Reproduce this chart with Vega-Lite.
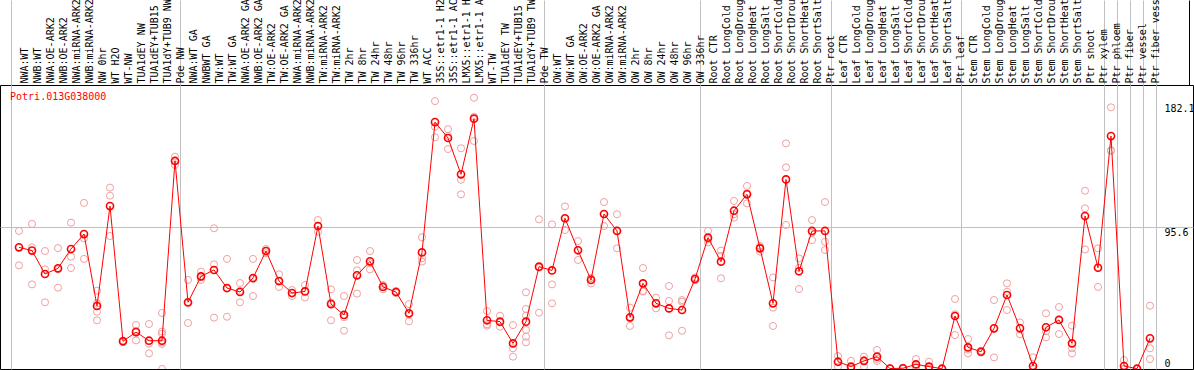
{
  "$schema": "https://vega.github.io/schema/vega-lite/v6.json",
  "width": 1193,
  "height": 284,
  "autosize": {"type": "none"},
  "padding": {"top": 85, "bottom": 1, "left": 0, "right": 1},
  "background": "white",
  "config": {"view": {"stroke": "black", "strokeWidth": 1}, "font": "DejaVu Sans Mono"},
  "datasets": {
    "means": [
      {"i":0,"v":81.7},{"i":1,"v":79.5},{"i":2,"v":63.8},{"i":3,"v":67.6},{"i":4,"v":80.6},{"i":5,"v":90.6},{"i":6,"v":42.3},{"i":7,"v":109.4},{"i":8,"v":18.6},{"i":9,"v":24.8},
      {"i":10,"v":19.0},{"i":11,"v":19.0},{"i":12,"v":139.7},{"i":13,"v":44.8},{"i":14,"v":62.2},{"i":15,"v":66.5},{"i":16,"v":54.4},{"i":17,"v":51.7},{"i":18,"v":61.1},{"i":19,"v":79.2},
      {"i":20,"v":59.1},{"i":21,"v":51.0},{"i":22,"v":52.1},{"i":23,"v":96.0},{"i":24,"v":43.6},{"i":25,"v":36.3},{"i":26,"v":62.9},{"i":27,"v":72.3},{"i":28,"v":55.1},{"i":29,"v":51.7},
      {"i":30,"v":37.4},{"i":31,"v":78.3},{"i":32,"v":165.8},{"i":33,"v":155.1},{"i":34,"v":130.7},{"i":35,"v":168.1},{"i":36,"v":32.7},{"i":37,"v":31.8},{"i":38,"v":17.2},{"i":39,"v":31.8},
      {"i":40,"v":68.7},{"i":41,"v":66.2},{"i":42,"v":101.2},{"i":43,"v":79.7},{"i":44,"v":59.8},{"i":45,"v":104.1},{"i":46,"v":92.7},{"i":47,"v":34.7},{"i":48,"v":57.5},{"i":49,"v":44.1},
      {"i":50,"v":40.7},{"i":51,"v":39.6},{"i":52,"v":60.4},{"i":53,"v":88.2},{"i":54,"v":72.1},{"i":55,"v":106.3},{"i":56,"v":117.3},{"i":57,"v":81.0},{"i":58,"v":44.1},{"i":59,"v":127.3},
      {"i":60,"v":65.6},{"i":61,"v":92.7},{"i":62,"v":92.7},{"i":63,"v":4.9},{"i":64,"v":1.6},{"i":65,"v":5.4},{"i":66,"v":8.3},{"i":67,"v":0.3},{"i":68,"v":0.5},{"i":69,"v":3.1},
      {"i":70,"v":1.6},{"i":71,"v":0.2},{"i":72,"v":35.6},{"i":73,"v":14.5},{"i":74,"v":11.6},{"i":75,"v":27.3},{"i":76,"v":49.7},{"i":77,"v":27.3},{"i":78,"v":2.0},{"i":79,"v":28.0},
      {"i":80,"v":32.9},{"i":81,"v":17.2},{"i":82,"v":102.7},{"i":83,"v":68.0},{"i":84,"v":156.4},{"i":85,"v":2.0},{"i":86,"v":0.2},{"i":87,"v":20.6}
    ],
    "reps": [
      {"i":0,"v":92.7},{"i":0,"v":81.7},{"i":0,"v":69.6},
      {"i":1,"v":97.4},{"i":1,"v":81.7},{"i":1,"v":56.8},
      {"i":2,"v":79.2},{"i":2,"v":66.9},{"i":2,"v":44.8},
      {"i":3,"v":81.2},{"i":3,"v":67.0},{"i":3,"v":54.6},
      {"i":4,"v":98.3},{"i":4,"v":75.4},{"i":4,"v":67.8},
      {"i":5,"v":111.5},{"i":5,"v":87.7},{"i":5,"v":73.9},
      {"i":6,"v":52.6},{"i":6,"v":44.1},{"i":6,"v":38.5},{"i":6,"v":32.7},
      {"i":7,"v":121.8},{"i":7,"v":116.4},{"i":7,"v":89.3},
      {"i":8,"v":18.0},{"i":8,"v":18.6},{"i":8,"v":19.2},
      {"i":9,"v":29.5},{"i":9,"v":25.7},{"i":9,"v":19.2},
      {"i":10,"v":30.2},{"i":10,"v":17.0},{"i":10,"v":10.5},
      {"i":11,"v":37.6},{"i":11,"v":25.1},{"i":11,"v":23.7},{"i":11,"v":17.9},{"i":11,"v":16.8},{"i":11,"v":0.0},
      {"i":12,"v":142.6},{"i":12,"v":139.7},{"i":12,"v":137.0},
      {"i":13,"v":59.8},{"i":13,"v":44.0},{"i":13,"v":30.9},
      {"i":14,"v":65.4},{"i":14,"v":61.5},{"i":14,"v":59.8},
      {"i":15,"v":94.5},{"i":15,"v":70.3},{"i":15,"v":34.5},
      {"i":16,"v":73.9},{"i":16,"v":54.0},{"i":16,"v":35.1},
      {"i":17,"v":57.7},{"i":17,"v":52.5},{"i":17,"v":44.8},
      {"i":18,"v":73.9},{"i":18,"v":60.5},{"i":18,"v":49.0},
      {"i":19,"v":80.6},{"i":19,"v":79.3},{"i":19,"v":77.7},
      {"i":20,"v":63.6},{"i":20,"v":58.6},{"i":20,"v":55.1},
      {"i":21,"v":53.0},{"i":21,"v":51.0},{"i":21,"v":49.0},
      {"i":22,"v":56.4},{"i":22,"v":52.1},{"i":22,"v":48.0},
      {"i":23,"v":100.0},{"i":23,"v":96.0},{"i":23,"v":92.2},
      {"i":24,"v":53.5},{"i":24,"v":44.6},{"i":24,"v":32.7},
      {"i":25,"v":49.0},{"i":25,"v":34.7},{"i":25,"v":25.7},
      {"i":26,"v":73.2},{"i":26,"v":66.2},{"i":26,"v":50.6},
      {"i":27,"v":79.2},{"i":27,"v":71.0},{"i":27,"v":66.9},
      {"i":28,"v":56.4},{"i":28,"v":55.3},{"i":28,"v":53.5},
      {"i":29,"v":52.4},{"i":29,"v":51.5},{"i":29,"v":51.0},
      {"i":30,"v":43.6},{"i":30,"v":36.5},{"i":30,"v":32.0},
      {"i":31,"v":88.4},{"i":31,"v":74.5},{"i":31,"v":72.1},
      {"i":32,"v":179.9},{"i":32,"v":162.7},{"i":32,"v":155.6},
      {"i":33,"v":161.1},{"i":33,"v":156.5},{"i":33,"v":147.7},
      {"i":34,"v":148.2},{"i":34,"v":127.1},{"i":34,"v":117.3},
      {"i":35,"v":182.1},{"i":35,"v":169.4},{"i":35,"v":153.1},
      {"i":36,"v":38.9},{"i":36,"v":30.0},{"i":36,"v":29.1},
      {"i":37,"v":35.8},{"i":37,"v":31.2},{"i":37,"v":28.4},
      {"i":38,"v":29.5},{"i":38,"v":13.9},{"i":38,"v":8.3},
      {"i":39,"v":51.5},{"i":39,"v":40.3},{"i":39,"v":35.8},{"i":39,"v":26.2},{"i":39,"v":21.7},{"i":39,"v":17.9},
      {"i":40,"v":100.5},{"i":40,"v":68.0},{"i":40,"v":37.8},
      {"i":41,"v":97.1},{"i":41,"v":56.8},{"i":41,"v":44.1},
      {"i":42,"v":109.2},{"i":42,"v":101.0},{"i":42,"v":93.3},
      {"i":43,"v":85.9},{"i":43,"v":80.0},{"i":43,"v":73.2},
      {"i":44,"v":61.0},{"i":44,"v":60.9},{"i":44,"v":57.5},
      {"i":45,"v":112.1},{"i":45,"v":104.0},{"i":45,"v":96.0},
      {"i":46,"v":103.9},{"i":46,"v":93.0},{"i":46,"v":81.0},
      {"i":47,"v":41.2},{"i":47,"v":34.0},{"i":47,"v":28.9},
      {"i":48,"v":67.8},{"i":48,"v":52.4},{"i":48,"v":52.0},
      {"i":49,"v":47.9},{"i":49,"v":44.0},{"i":49,"v":40.7},
      {"i":50,"v":55.7},{"i":50,"v":45.7},{"i":50,"v":22.6},
      {"i":51,"v":46.3},{"i":51,"v":45.2},{"i":51,"v":25.7},
      {"i":52,"v":61.5},{"i":52,"v":60.3},{"i":52,"v":59.5},
      {"i":53,"v":92.7},{"i":53,"v":87.1},{"i":53,"v":85.0},
      {"i":54,"v":79.5},{"i":54,"v":76.0},{"i":54,"v":60.9},
      {"i":55,"v":112.8},{"i":55,"v":103.9},{"i":55,"v":101.6},
      {"i":56,"v":122.9},{"i":56,"v":118.0},{"i":56,"v":111.2},
      {"i":57,"v":82.6},{"i":57,"v":81.7},{"i":57,"v":78.8},
      {"i":58,"v":61.5},{"i":58,"v":41.2},{"i":58,"v":28.9},
      {"i":59,"v":151.5},{"i":59,"v":135.4},{"i":59,"v":96.7},
      {"i":60,"v":74.3},{"i":60,"v":68.0},{"i":60,"v":53.7},
      {"i":61,"v":100.0},{"i":61,"v":91.5},{"i":61,"v":86.6},
      {"i":62,"v":112.1},{"i":62,"v":85.5},{"i":62,"v":79.9},
      {"i":63,"v":8.7},{"i":63,"v":4.4},{"i":63,"v":1.6},
      {"i":64,"v":5.4},{"i":64,"v":0.4},{"i":64,"v":0.0},
      {"i":65,"v":8.3},{"i":65,"v":6.0},{"i":65,"v":1.6},
      {"i":66,"v":12.8},{"i":66,"v":6.8},{"i":66,"v":5.4},
      {"i":67,"v":0.5},{"i":67,"v":0.3},{"i":67,"v":0.1},
      {"i":68,"v":0.8},{"i":68,"v":0.5},{"i":68,"v":0.2},
      {"i":69,"v":6.7},{"i":69,"v":1.6},{"i":69,"v":1.0},
      {"i":70,"v":4.9},{"i":70,"v":0.0},{"i":70,"v":0.0},
      {"i":71,"v":0.3},{"i":71,"v":0.2},{"i":71,"v":0.1},
      {"i":72,"v":47.0},{"i":72,"v":36.7},{"i":72,"v":22.8},
      {"i":73,"v":20.1},{"i":73,"v":13.0},{"i":73,"v":10.5},
      {"i":74,"v":12.3},{"i":74,"v":11.5},{"i":74,"v":11.0},
      {"i":75,"v":46.3},{"i":75,"v":27.3},{"i":75,"v":7.8},
      {"i":76,"v":57.5},{"i":76,"v":51.9},{"i":76,"v":39.6},
      {"i":77,"v":31.3},{"i":77,"v":27.3},{"i":77,"v":23.3},
      {"i":78,"v":7.8},{"i":78,"v":0.0},{"i":78,"v":0.0},
      {"i":79,"v":37.4},{"i":79,"v":25.3},{"i":79,"v":21.3},
      {"i":80,"v":41.6},{"i":80,"v":33.6},{"i":80,"v":23.5},
      {"i":81,"v":29.1},{"i":81,"v":13.9},{"i":81,"v":10.5},
      {"i":82,"v":119.7},{"i":82,"v":107.9},{"i":82,"v":80.3},
      {"i":83,"v":81.0},{"i":83,"v":68.0},{"i":83,"v":55.1},
      {"i":84,"v":175.7},{"i":84,"v":146.8},{"i":84,"v":146.7},
      {"i":85,"v":6.0},{"i":85,"v":0.0},{"i":85,"v":0.0},
      {"i":86,"v":0.2},{"i":86,"v":0.1},{"i":86,"v":0.0},
      {"i":87,"v":42.5},{"i":87,"v":13.9},{"i":87,"v":6.7}
    ]
  },
  "resolve": {"axis": {"x": "independent", "y": "independent"}},
  "layer": [
    {
      "data": {"name": "reps"},
      "mark": {"type": "point", "shape": "circle", "filled": false, "size": 50, "color": "#f0a0a0", "strokeWidth": 1, "opacity": 1, "clip": true},
      "encoding": {
        "x": {
          "field": "i", "type": "quantitative",
          "scale": {"domain": [-1.461538, 90.307692], "nice": false, "zero": false},
          "axis": {
            "orient": "top",
            "title": null,
            "values": [-1,0,1,2,3,4,5,6,7,8,9,10,11,12,13,14,15,16,17,18,19,20,21,22,23,24,25,26,27,28,29,30,31,32,33,34,35,36,37,38,39,40,41,42,43,44,45,46,47,48,49,50,51,52,53,54,55,56,57,58,59,60,61,62,63,64,65,66,67,68,69,70,71,72,73,74,75,76,77,78,79,80,81,82,83,84,85,86,87,89.58],
            "labelExpr": "datum.value >= 0 && datum.value <= 87 ? ['NWA:WT','NWB:WT','NWA:OE-ARK2','NWB:OE-ARK2','NWA:miRNA-ARK2','NWB:miRNA-ARK2','NW 0hr','WT H2O','WT-NW','TUA1dEY NW','TUA1dEY+TUB15','TUA1dY+TUB9 NW','Pde NW','NWA:WT GA','NWBWT GA','TW:WT','TW:WT GA','NWA:OE-ARK2 GA','NWB:OE-ARK2 GA','TW:OE-ARK2','TW:OE-ARK2 GA','NWA:miRNA-ARK2','NWB:miRNA-ARK2','TW:miRNA-ARK2','TW:miRNA-ARK2','TW 2hr','TW 8hr','TW 24hr','TW 48hr','TW 96hr','TW 336hr','WT ACC','35S::etr1-1 H2','35S::etr1-1 AC','LMX5::etr1-1 H','LMX5::etr1-1 A','WT-TW','TUA1dEY TW','TUA1dEY+TUB15','TUA1dY+TUB9 TW','Pde TW','OW:WT','OW:WT GA','OW:OE-ARK2','OW:OE-ARK2 GA','OW:miRNA-ARK2','OW:miRNA-ARK2','OW 2hr','OW 8hr','OW 24hr','OW 48hr','OW 96hr','OW 336hr','Root CTR','Root LongCold','Root LongDroug','Root LongHeat','Root LongSalt','Root ShortCold','Root ShortDrou','Root ShortHeat','Root ShortSalt','Ptr root','Leaf CTR','Leaf LongCold','Leaf LongDroug','Leaf LongHeat','Leaf LongSalt','Leaf ShortCold','Leaf ShortDrou','Leaf ShortHeat','Leaf ShortSalt','Ptr leaf','Stem CTR','Stem LongCold','Stem LongDroug','Stem LongHeat','Stem LongSalt','Stem ShortCold','Stem ShortDrou','Stem ShortHeat','Stem ShortSalt','Ptr shoot','Ptr xylem','Ptr phloem','Ptr fiber','Ptr vessel','Ptr fiber vess'][datum.value] : ''",
            "labelAngle": -90,
            "labelAlign": "left",
            "labelBaseline": "middle",
            "labelPadding": -83,
            "labelFont": "DejaVu Sans Mono",
            "labelFontSize": 10,
            "labelColor": "black",
            "labelOverlap": false,
            "labelFlush": false,
            "labelBound": false,
            "ticks": true,
            "tickSize": 85,
            "tickOffset": 5.5,
            "tickWidth": 1,
            "tickColor": {"condition": {"test": "datum.value > 89", "value": "black"}, "value": "#c0c0c0"},
            "tickOpacity": {"condition": {"test": "datum.value > 89 || indexof([-1,12,40,52,62,72,83,84,85,86,87], datum.value) >= 0", "value": 1}, "value": 0},
            "grid": true,
            "gridColor": "#c0c0c0",
            "gridWidth": 1,
            "gridOpacity": {"condition": {"test": "indexof([-1,12,40,52,62,72,83,84,85,86,87], datum.value) >= 0", "value": 1}, "value": 0},
            "domain": false
          }
        },
        "y": {
          "field": "v", "type": "quantitative",
          "scale": {"domain": [0, 190.7], "nice": false, "zero": false},
          "axis": {"orient": "left", "values": [95.6], "grid": true, "gridColor": "#c0c0c0", "gridWidth": 1, "labels": false, "ticks": false, "tickSize": 0, "domain": false, "title": null}
        }
      }
    },
    {
      "data": {"name": "means"},
      "mark": {"type": "line", "color": "#ff0000", "strokeWidth": 1, "clip": true},
      "encoding": {
        "x": {"field": "i", "type": "quantitative", "axis": null},
        "y": {"field": "v", "type": "quantitative", "axis": null}
      }
    },
    {
      "data": {"name": "means"},
      "mark": {"type": "point", "shape": "circle", "filled": false, "size": 50, "color": "#ff0000", "strokeWidth": 1.6, "opacity": 1, "clip": true},
      "encoding": {
        "x": {"field": "i", "type": "quantitative", "axis": null},
        "y": {
          "field": "v", "type": "quantitative",
          "axis": {
            "orient": "right", "values": [0, 95.6, 182.1], "offset": -29, "labelPadding": 0,
            "labelExpr": "datum.value == 0 ? '0' : format(datum.value, '.1f')",
            "ticks": false, "tickSize": 0, "domain": false, "grid": false, "title": null,
            "labelAlign": "left", "labelBaseline": "top", "labelFont": "DejaVu Sans Mono", "labelFontSize": 10,
            "labelColor": "black", "labelFlush": false, "labelBound": false, "labelOverlap": false,
            "labelOffset": {"condition": [{"test": "datum.value > 150", "value": 6}, {"test": "datum.value == 0", "value": -11}], "value": 1}
          }
        }
      }
    },
    {
      "data": {"values": [{"label": "Potri.013G038000"}]},
      "mark": {"type": "text", "color": "#ff0000", "font": "DejaVu Sans Mono", "fontSize": 10, "align": "left", "baseline": "middle"},
      "encoding": {
        "x": {"datum": -0.69, "type": "quantitative", "axis": null},
        "y": {"datum": 182.6, "type": "quantitative", "axis": null},
        "text": {"field": "label"}
      }
    }
  ]
}
